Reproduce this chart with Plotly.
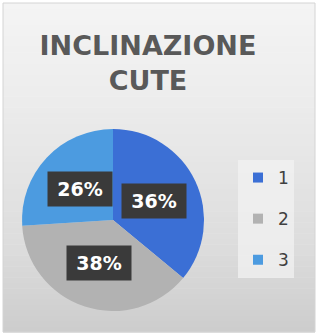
import numpy as np
import plotly.graph_objects as go

# ---- data -------------------------------------------------------------
categories = ["1", "2", "3"]
percentages = [36, 38, 26]
slice_colors = ["#3b6fd5", "#b2b2b2", "#4c9be0"]
title_lines = ["INCLINAZIONE", "CUTE"]

# ---- geometry (pixels) -----------------------------------------------
W, H = 331, 336
cx, cy, R = 113, 220, 91          # pie centre and radius
panel = (3, 3, 315, 332)          # chart-area rectangle (x0, y0, x1, y1)


def px(x):
    return x / W


def py(y):
    return 1 - y / H


fig = go.Figure()

fig.add_trace(go.Pie(
    labels=categories,
    values=percentages,
    marker=dict(colors=slice_colors, line=dict(width=0)),
    sort=False,
    direction="clockwise",
    rotation=0,
    textinfo="none",
    hoverinfo="label+percent",
    showlegend=False,
    domain=dict(x=[px(cx - R), px(cx + R)], y=[py(cy + R), py(cy - R)]),
))

# legend entries, one group per category so they can be spaced apart
for name, col in zip(categories, slice_colors):
    fig.add_trace(go.Scatter(
        x=[None], y=[None], mode="markers", name=name, legendgroup=name,
        marker=dict(symbol="square", size=10, color=col),
        hoverinfo="skip",
    ))

# percentage labels in dark boxes at half radius of each slice
total = sum(percentages)
start = 0
for p in percentages:
    mid = (start + p / 2) / total * 2 * np.pi
    lx = cx + 0.5 * R * np.sin(mid)
    ly = cy - 0.5 * R * np.cos(mid)
    fig.add_annotation(
        x=px(lx), y=py(ly), xref="paper", yref="paper",
        xanchor="center", yanchor="middle",
        text=f"{p}%", showarrow=False,
        font=dict(family="DejaVu Sans", size=19, color="white", weight="bold"),
        bgcolor="#3a3a3a", width=60, height=30, borderpad=2,
    )
    start += p

# gradient background of the chart area
shapes = []
stops = [(3, 244), (80, 238), (160, 230), (250, 220), (332, 204)]
n_bands = 60
x0, y0, x1, y1 = panel
edges = np.linspace(y0, y1, n_bands + 1)
for a, b in zip(edges[:-1], edges[1:]):
    m = (a + b) / 2
    g = int(round(np.interp(m, [s[0] for s in stops], [s[1] for s in stops])))
    shapes.append(dict(type="rect", xref="paper", yref="paper",
                       x0=px(x0), x1=px(x1), y0=py(b + 0.5), y1=py(a),
                       fillcolor=f"rgb({g},{g},{g})", line=dict(width=0),
                       layer="below"))
shapes.append(dict(type="rect", xref="paper", yref="paper",
                   x0=px(x0), x1=px(x1), y0=py(y1), y1=py(y0),
                   line=dict(color="#d4d4d4", width=1), layer="below"))

fig.update_layout(
    width=W, height=H,
    margin=dict(l=0, r=0, t=0, b=0),
    paper_bgcolor="white",
    plot_bgcolor="rgba(0,0,0,0)",
    xaxis=dict(visible=False),
    yaxis=dict(visible=False),
    shapes=shapes,
    title=dict(
        text="<br>".join(title_lines),
        x=px(148), xanchor="center", xref="paper",
        y=py(55), yanchor="top", yref="container",
        font=dict(family="DejaVu Sans", size=27, color="#595959", weight="bold"),
    ),
    legend=dict(
        x=px(238), y=py(160), xanchor="left", yanchor="top",
        bgcolor="rgba(242,242,242,0.75)",
        font=dict(family="DejaVu Sans", size=17, color="#404040"),
        traceorder="grouped", tracegroupgap=16,
    ),
)

fig.write_html("out.html")
